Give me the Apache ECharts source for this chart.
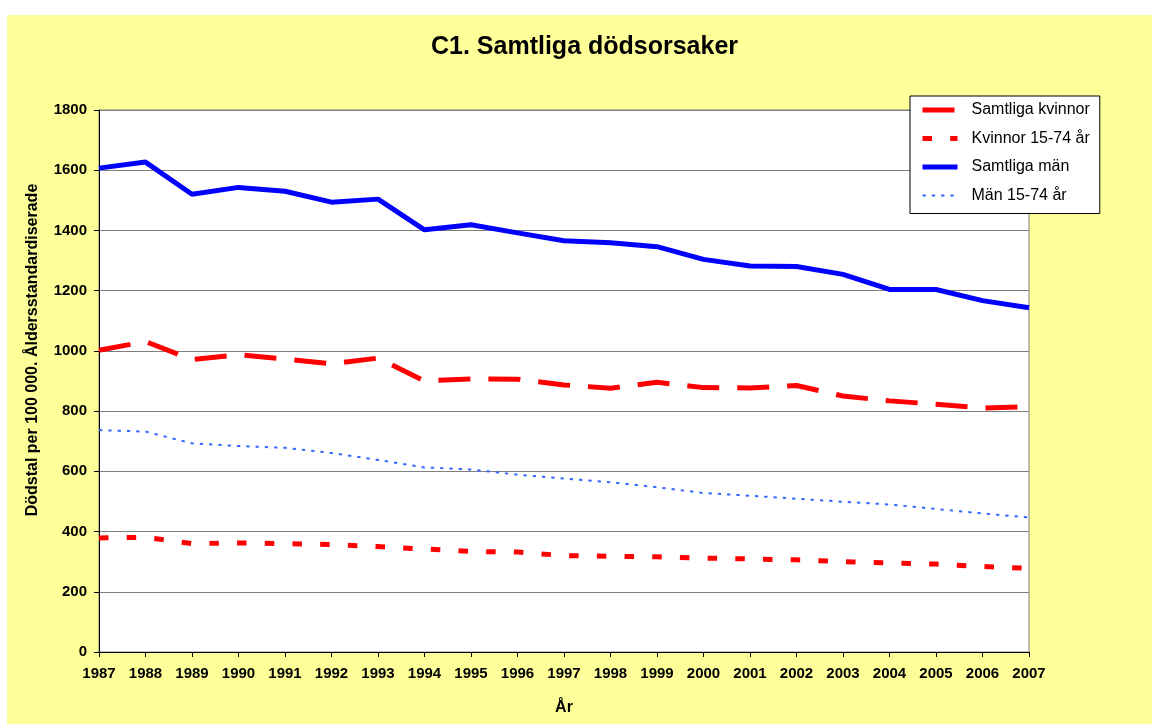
<!DOCTYPE html>
<html>
<head>
<meta charset="utf-8">
<script src="https://cdn.jsdelivr.net/npm/echarts@6/dist/echarts.min.js"></script>
<style>
html,body{margin:0;padding:0;background:#ffffff;}
#chart{width:1152px;height:724px;}
</style>
</head>
<body>
<div id="chart"></div>
<script>
// Data
var years = ['1987','1988','1989','1990','1991','1992','1993','1994','1995','1996','1997','1998','1999','2000','2001','2002','2003','2004','2005','2006','2007'];
var samtligaKvinnor = [1002, 1031, 971, 987, 973, 957, 976, 900, 907, 906, 887, 876, 896, 878, 877, 885, 850, 834, 823, 810, 815];
var kvinnor1574 = [379, 381, 360, 362, 360, 357, 350, 342, 334, 332, 320, 318, 316, 312, 309, 306, 300, 296, 292, 284, 278];
var samtligaMan = [1607, 1627, 1520, 1543, 1530, 1494, 1504, 1402, 1419, 1392, 1366, 1359, 1346, 1304, 1282, 1280, 1254, 1204, 1204, 1167, 1143];
var man1574 = [737, 732, 693, 684, 678, 661, 638, 613, 606, 589, 576, 564, 547, 528, 519, 509, 499, 490, 475, 460, 447];
var seriesNames = ['Samtliga kvinnor', 'Kvinnor 15-74 år', 'Samtliga män', 'Män 15-74 år'];
var titleText = 'C1. Samtliga dödsorsaker';
var yAxisTitle = 'Dödstal per 100 000. Åldersstandardiserade';
var xAxisTitle = 'År';

var FONT = 'Liberation Sans, Arial, sans-serif';
var chart = echarts.init(document.getElementById('chart'), null, {renderer: 'canvas'});

var option = {
  animation: false,
  backgroundColor: '#ffffff',
  title: {
    text: titleText,
    left: 431,
    top: 35,
    padding: 0,
    textStyle: {fontFamily: FONT, fontSize: 25, fontWeight: 'bold', color: '#000000'}
  },
  graphic: [
    {type: 'rect', z: -10, silent: true, shape: {x: 7, y: 15, width: 1145, height: 709}, style: {fill: '#FFFF99'}},
    {type: 'text', z: 10, silent: true, x: 33, y: 350, rotation: Math.PI / 2,
      style: {text: yAxisTitle, fontFamily: FONT, fontSize: 16, fontWeight: 'bold', fill: '#000000', textAlign: 'center', textVerticalAlign: 'middle'}}
  ],
  legend: {
    data: seriesNames,
    orient: 'vertical',
    left: 910,
    top: 96,
    width: 192,
    padding: [6, 10, 10, 10],
    itemWidth: 35,
    itemHeight: 14,
    itemGap: 12.5,
    backgroundColor: '#ffffff',
    borderColor: '#000000',
    borderWidth: 1,
    borderRadius: 0,
    itemStyle: {opacity: 0},
    lineStyle: {width: 'inherit', type: 'inherit'},
    textStyle: {fontFamily: FONT, fontSize: 16, color: '#000000', padding: [0, 0, 0, 9]}
  },
  grid: {
    left: 99, right: 123, top: 110, bottom: 72,
    show: true, backgroundColor: '#ffffff', borderColor: '#808080', borderWidth: 1
  },
  xAxis: {
    type: 'category',
    data: years,
    boundaryGap: false,
    name: xAxisTitle,
    nameLocation: 'middle',
    nameGap: 48,
    nameTextStyle: {fontFamily: FONT, fontSize: 16, fontWeight: 'bold', color: '#000000'},
    axisLine: {lineStyle: {color: '#000000', width: 1}},
    axisTick: {show: true, inside: false, length: 5, alignWithLabel: true, lineStyle: {color: '#000000'}},
    axisLabel: {interval: 0, margin: 14, fontFamily: FONT, fontSize: 15, fontWeight: 'bold', color: '#000000'},
    splitLine: {show: false}
  },
  yAxis: {
    type: 'value',
    min: 0, max: 1800, interval: 200,
    axisLine: {show: true, lineStyle: {color: '#000000', width: 1}},
    axisTick: {show: true, inside: false, length: 5, lineStyle: {color: '#000000'}},
    axisLabel: {margin: 12, fontFamily: FONT, fontSize: 15, fontWeight: 'bold', color: '#000000',
      formatter: function (v) { return String(v); }},
    splitLine: {show: true, lineStyle: {color: '#808080', width: 1}}
  },
  series: [
    {name: seriesNames[0], type: 'line', data: samtligaKvinnor, symbol: 'none', showSymbol: false, z: 3,
      itemStyle: {color: '#FF0000'},
      lineStyle: {color: '#FF0000', width: 5, type: [32, 18]}},
    {name: seriesNames[1], type: 'line', data: kvinnor1574, symbol: 'none', showSymbol: false, z: 3,
      itemStyle: {color: '#FF0000'},
      lineStyle: {color: '#FF0000', width: 5, type: [9.5, 18.2]}},
    {name: seriesNames[2], type: 'line', data: samtligaMan, symbol: 'none', showSymbol: false, z: 3,
      itemStyle: {color: '#0000FF'},
      lineStyle: {color: '#0000FF', width: 5, type: 'solid'}},
    {name: seriesNames[3], type: 'line', data: man1574, symbol: 'none', showSymbol: false, z: 3,
      itemStyle: {color: '#3366FF'},
      lineStyle: {color: '#3366FF', width: 2, type: [3.3, 6]}}
  ]
};
chart.setOption(option);
</script>
</body>
</html>
